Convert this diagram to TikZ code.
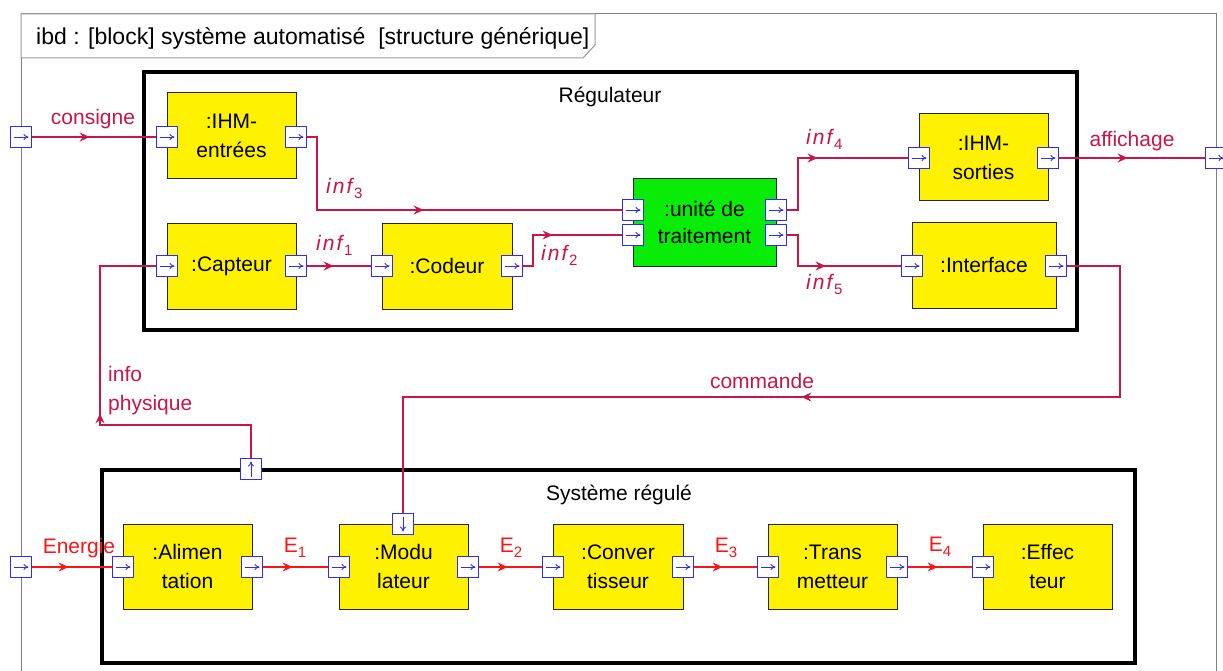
\documentclass[tikz,border=0pt]{standalone}
\usepackage{fontspec}
\setmainfont{Liberation Sans}
\usetikzlibrary{arrows.meta,decorations.markings}
\definecolor{ibdyellow}{RGB}{255,242,0}
\definecolor{ibdgreen}{RGB}{8,236,8}
\definecolor{crim}{RGB}{200,22,72}
\definecolor{enred}{RGB}{250,22,22}
\definecolor{portblue}{RGB}{45,45,250}
\newcommand{\infl}[1]{\textit{i\kern2pt n\kern2pt f}\raisebox{-5pt}{\fontsize{15}{15}\selectfont #1}}
\newcommand{\enl}[1]{E\raisebox{-5pt}{\fontsize{15}{15}\selectfont #1}}
\tikzset{
  txt/.style={font=\fontsize{21}{29}\selectfont, inner sep=0pt},
  blk/.style={txt, draw=black!85, line width=1pt, fill=ibdyellow, align=center,
    minimum width=129pt, minimum height=86pt},
  thickbox/.style={draw=black, line width=4pt, inner sep=0pt},
  port/.style={draw=portblue, fill=white, line width=1.2pt, minimum width=21pt,
    minimum height=21pt, inner sep=0pt},
  pr/.style={port, path picture={\draw[portblue, line width=0.8pt, -{To[length=5pt,width=6pt]}]
    ([xshift=3pt]path picture bounding box.west) -- ([xshift=-3pt]path picture bounding box.east);}},
  pu/.style={port, path picture={\draw[portblue, line width=0.8pt, -{To[length=5pt,width=6pt]}]
    ([yshift=3pt]path picture bounding box.south) -- ([yshift=-3pt]path picture bounding box.north);}},
  pd/.style={port, path picture={\draw[portblue, line width=0.8pt, -{To[length=5pt,width=6pt]}]
    ([yshift=-3pt]path picture bounding box.north) -- ([yshift=3pt]path picture bounding box.south);}},
  mid/.style={postaction={decorate,decoration={markings,
    mark=at position #1 with {\arrow{Stealth[length=10pt,width=9pt,inset=3.5pt]}}}}},
  info/.style={draw=crim, line width=1.8pt},
  infothin/.style={draw=crim, line width=1.3pt},
  energy/.style={draw=enred, line width=1.3pt},
  lbl/.style={txt, text=crim},
  elbl/.style={txt, text=enred},
}
\begin{document}
\begin{tikzpicture}[x=1pt,y=-1pt]
\useasboundingbox[fill=white] (0,0) rectangle (1223,671);
% outer frame
\draw[black!50, line width=1pt] (21,671) -- (21,14) -- (1216,14) -- (1216,671);
\draw[black!40, fill=white, line width=1pt] (21,14) -- (595,14) -- (595,45) -- (583,58) -- (21,58) -- cycle;
\node[txt, font=\fontsize{23}{26}\selectfont, anchor=west] (title) at (36,38)
  {ibd : [block] système automatisé \ [structure générique]};
% containers
\node[thickbox, minimum width=933pt, minimum height=258pt] (reg) at (610.5,201) {};
\node[txt] (regt) at (610,97) {Régulateur};
\node[thickbox, minimum width=1033pt, minimum height=193pt] (sys) at (618.5,566) {};
\node[txt] (syst) at (619,495) {Système régulé};
% blocks
\node[blk] (ihmE) at (231.5,136) {:IHM-\\entrées};
\node[blk] (capt) at (231.5,266) {:Capteur};
\node[blk, minimum width=130pt] (cod) at (447,266) {:Codeur};
\node[blk, fill=ibdgreen, minimum width=143pt, minimum height=87pt] (unit) at (704.5,222.5) {:unité de\\[-2pt]traitement};
\node[blk, minimum height=87pt] (ihmS) at (983.5,157.5) {:IHM-\\sorties};
\node[blk, minimum width=144pt] (intf) at (984,265) {:Interface};
\node[blk, minimum height=85pt] (alim) at (187.5,566.5) {:Alimen\\tation};
\node[blk, minimum height=85pt] (modu) at (403.5,566.5) {:Modu\\lateur};
\node[blk, minimum height=85pt, minimum width=130pt] (conv) at (618,566.5) {:Conver\\tisseur};
\node[blk, minimum height=85pt] (trans) at (832.5,566.5) {:Trans\\metteur};
\node[blk, minimum height=85pt] (eff) at (1047.5,566.5) {:Effec\\teur};
% ports
\node[pr] (fl1) at (21,137) {};
\node[pr] (fl2) at (21,567) {};
\node[pr] (fr1) at (1216,158) {};
\node[pr] (ihmEi) at (167,137) {};
\node[pr] (ihmEo) at (296,137) {};
\node[pr] (capti) at (167,266) {};
\node[pr] (capto) at (296,266) {};
\node[pr] (codi) at (382,266) {};
\node[pr] (codo) at (512,266) {};
\node[pr] (uni1) at (633,210) {};
\node[pr] (uni2) at (633,235) {};
\node[pr] (uno1) at (776,210) {};
\node[pr] (uno2) at (776,235) {};
\node[pr] (ihmSi) at (919,158) {};
\node[pr] (ihmSo) at (1048,158) {};
\node[pr] (intfi) at (912,266) {};
\node[pr] (intfo) at (1056,266) {};
\node[pu] (sysp) at (251,469) {};
\node[pd] (modt) at (403,524) {};
\node[pr] (alimi) at (123,567) {};
\node[pr] (alimo) at (252,567) {};
\node[pr] (modi) at (339,567) {};
\node[pr] (modo) at (468,567) {};
\node[pr] (convi) at (553,567) {};
\node[pr] (convo) at (683,567) {};
\node[pr] (transi) at (768,567) {};
\node[pr] (transo) at (897,567) {};
\node[pr] (effi) at (983,567) {};
% turning points
\coordinate (c3a) at (317,137); \coordinate (c3b) at (317,210);
\coordinate (c2a) at (533,266); \coordinate (c2b) at (533,235);
\coordinate (c4a) at (798,210); \coordinate (c4b) at (798,158);
\coordinate (c5a) at (798,235); \coordinate (c5b) at (798,266);
\coordinate (ipa) at (251,425); \coordinate (ipb) at (100,425); \coordinate (ipc) at (100,266);
\coordinate (cma) at (1120,266); \coordinate (cmb) at (1120,397); \coordinate (cmc) at (403,397);
% connectors
\draw[info, mid=57.5pt] (fl1.east) -- (ihmEi.west);
\draw[info, mid=189.5pt] (ihmEo.east) -- (c3a) -- (c3b) -- (uni1.west);
\draw[info, mid=195.5pt] (sysp.north) -- (ipa) -- (ipb) -- (ipc) -- (capti.west);
\draw[info, mid=26.5pt] (capto.east) -- (codi.west);
\draw[info, mid=60.5pt] (codo.east) -- (c2a) -- (c2b) -- (uni2.west);
\draw[info, mid=82.5pt] (uno1.east) -- (c4a) -- (c4b) -- (ihmSi.west);
\draw[info, mid=69.5pt] (uno2.east) -- (c5a) -- (c5b) -- (intfi.west);
\draw[info, mid=68.5pt] (ihmSo.east) -- (fr1.west);
\draw[infothin, mid=502.5pt] (intfo.east) -- (cma) -- (cmb) -- (cmc) -- (modt.north);
\draw[energy, mid=36.5pt] (fl2.east) -- (alimi.west);
\draw[energy, mid=29.5pt] (alimo.east) -- (modi.west);
\draw[energy, mid=28.5pt] (modo.east) -- (convi.west);
\draw[energy, mid=28.5pt] (convo.east) -- (transi.west);
\draw[energy, mid=29.5pt] (transo.east) -- (effi.west);
% labels
\node[lbl] (lcons) at (93,119) {consigne};
\node[lbl, anchor=west] (l3) at (326,188) {\infl{3}};
\node[lbl, anchor=west] (l1) at (316,245) {\infl{1}};
\node[lbl, anchor=west] (l2) at (541,255) {\infl{2}};
\node[lbl, anchor=west] (l4) at (806,139) {\infl{4}};
\node[lbl, anchor=west] (l5) at (806,284) {\infl{5}};
\node[lbl] (laff) at (1132,141) {affichage};
\node[lbl] (lcom) at (762,381) {commande};
\node[lbl, anchor=west, align=left] (linfo) at (108,391) {info\\physique};
\node[elbl] (lene) at (79,548) {Energie};
\node[elbl] (le1) at (295,548) {\enl{1}};
\node[elbl] (le2) at (511,548) {\enl{2}};
\node[elbl] (le3) at (726,548) {\enl{3}};
\node[elbl] (le4) at (940,547) {\enl{4}};
\end{tikzpicture}
\end{document}
